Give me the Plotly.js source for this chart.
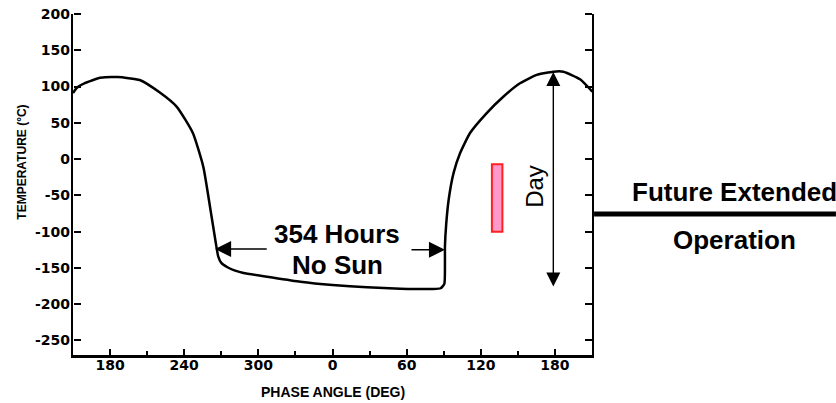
<!DOCTYPE html>
<html>
<head>
<meta charset="utf-8">
<script src="https://cdn.plot.ly/plotly-3.0.1.min.js"></script>
<style>html,body{margin:0;padding:0;background:#fff;}#chart{width:836px;height:403px;}</style>
</head>
<body>
<div id="chart"></div>
<script>
// Phase angle (continuous degrees: 360 = 0 on the axis) and lunar surface temperature (°C)
const phaseDeg = [150, 153, 160, 172, 186, 204, 220, 234, 247, 255.5, 261, 265.5, 267.5, 270, 275, 280, 288, 307, 334, 360, 388, 415, 441, 447.5, 450.5, 451, 451, 452, 454, 458, 463.2, 471.3, 484.8, 498.2, 511.7, 525.3, 538.7, 546.8, 560.3, 570.3];
const tempC    = [91, 98, 105, 112, 113, 109, 92, 72, 36, -11, -67, -115, -134, -143, -149, -153, -157, -162, -169, -173.5, -176.7, -178.6, -179, -178, -172, -145, -120, -90, -56, -19, 8, 36, 63.5, 86, 104.5, 116, 120.5, 120.5, 110, 93];

const xTickVals = [180, 240, 300, 360, 420, 480, 540];
const xTickText = ['180', '240', '300', '0', '60', '120', '180'];
const xMinorVals = [210, 270, 330, 390, 450, 510];
const yTickVals = [200, 150, 100, 50, 0, -50, -100, -150, -200, -250];
const yTickText = ['200', '150', '100', '50', '0', '-50', '-100', '-150', '-200', '-250'];

// Annotation anchors (data units)
const noSunLeftTip = [265, -124], noSunLeftTail = [308, -124];
const noSunRightTail = [422.7, -125], noSunRightTip = [451, -125];
const dayTop = [538.7, 120], dayBottom = [538.7, -177.7];
const markerBox = {x0: 489, x1: 497.5, y0: -100, y1: -7};

const xRange = [150, 570], yRange = [-270, 200];
const bold = s => '<b>' + s + '</b>';
const tickFont = {family: 'DejaVu Sans, Arial, sans-serif', size: 14, color: '#000'};

const curve = {
  x: phaseDeg, y: tempC, mode: 'lines', type: 'scatter',
  line: {color: '#000', width: 2.5, shape: 'spline', smoothing: 0.5},
  hoverinfo: 'skip', showlegend: false
};
// invisible copies so the tick-only overlay axes get drawn
const ghost = (xa, ya) => ({x: phaseDeg, y: tempC, xaxis: xa, yaxis: ya, mode: 'lines', type: 'scatter',
  line: {color: 'rgba(0,0,0,0)', width: 1}, hoverinfo: 'skip', showlegend: false});

const arrowBase = {xref: 'x', yref: 'y', axref: 'x', ayref: 'y', text: '', showarrow: true,
  arrowhead: 2, arrowsize: 2, arrowwidth: 1.6, arrowcolor: '#000', standoff: 0, startstandoff: 0};

const tickOnly = {showticklabels: false, showline: false, showgrid: false, zeroline: false,
  ticks: 'outside', tickwidth: 2, tickcolor: '#000', tickmode: 'array'};

const layout = {
  width: 836, height: 403,
  margin: {l: 73, r: 244, t: 14, b: 48, pad: 0},
  paper_bgcolor: '#fff', plot_bgcolor: '#fff',
  showlegend: false,
  xaxis: {
    range: xRange, tickmode: 'array', tickvals: xTickVals, ticktext: xTickText.map(bold),
    showgrid: false, zeroline: false, showline: true, linecolor: '#000', linewidth: 2.5,
    ticks: '', tickfont: tickFont, ticklabelstandoff: -4
  },
  xaxis2: Object.assign({}, tickOnly, {overlaying: 'x', range: xRange, side: 'top', anchor: 'free', position: 0,
    tickvals: xTickVals, ticklen: 6,
    minor: {tickmode: 'array', tickvals: xMinorVals, ticks: 'outside', ticklen: 4, tickwidth: 2, tickcolor: '#000', showgrid: false}}),
  yaxis: {
    range: yRange, tickmode: 'array', tickvals: yTickVals, ticktext: yTickText.map(bold),
    showgrid: false, zeroline: false, showline: true, linecolor: '#000', linewidth: 2.2,
    mirror: true, ticks: '', tickfont: tickFont, ticklabelstandoff: -2
  },
  yaxis2: Object.assign({}, tickOnly, {overlaying: 'y', range: yRange, side: 'right', anchor: 'free', position: 0,
    tickvals: yTickVals, ticklen: 7}),
  yaxis3: Object.assign({}, tickOnly, {overlaying: 'y', range: yRange, side: 'left', anchor: 'free', position: 1,
    tickvals: yTickVals, ticklen: 7}),
  shapes: [
    {type: 'rect', xref: 'x', yref: 'y', x0: markerBox.x0, x1: markerBox.x1, y0: markerBox.y0, y1: markerBox.y1,
     fillcolor: '#ff99cc', line: {color: '#ff2020', width: 2}},
    {type: 'line', xref: 'paper', yref: 'y', x0: 1.004, x1: 1.47, y0: -75.7, y1: -75.7,
     line: {color: '#000', width: 5}}
  ],
  annotations: [
    Object.assign({}, arrowBase, {x: noSunLeftTip[0], y: noSunLeftTip[1], ax: noSunLeftTail[0], ay: noSunLeftTail[1]}),
    Object.assign({}, arrowBase, {x: noSunRightTip[0], y: noSunRightTip[1], ax: noSunRightTail[0], ay: noSunRightTail[1]}),
    Object.assign({}, arrowBase, {x: dayTop[0], y: dayTop[1], ax: dayBottom[0], ay: dayBottom[1],
      arrowside: 'end+start', startarrowhead: 2, startarrowsize: 2, arrowwidth: 1.4}),
    {xref: 'x', yref: 'y', x: 364, y: -103, text: '<b>354 Hours</b>', showarrow: false,
     font: {family: 'Liberation Sans, Arial, sans-serif', size: 26, color: '#000'}},
    {xref: 'x', yref: 'y', x: 364, y: -146, text: '<b>No Sun</b>', showarrow: false,
     font: {family: 'Liberation Sans, Arial, sans-serif', size: 26, color: '#000'}},
    {xref: 'x', yref: 'y', x: 524, y: -38, text: 'Day', textangle: -90, showarrow: false,
     font: {family: 'Liberation Sans, Arial, sans-serif', size: 24, color: '#000'}},
    {xref: 'paper', yref: 'y', x: 1.2746, y: -45.3, text: '<b>Future Extended</b>', showarrow: false,
     xanchor: 'center', font: {family: 'Liberation Sans, Arial, sans-serif', size: 26, color: '#000'}},
    {xref: 'paper', yref: 'y', x: 1.2755, y: -111.5, text: '<b>Operation</b>', showarrow: false,
     xanchor: 'center', font: {family: 'Liberation Sans, Arial, sans-serif', size: 26, color: '#000'}},
    {xref: 'paper', yref: 'paper', x: 0.501, y: -0.1085, text: '<b>PHASE ANGLE (DEG)</b>', showarrow: false,
     xanchor: 'center', yanchor: 'middle', font: {family: 'Liberation Sans, Arial, sans-serif', size: 14, color: '#000'}},
    {xref: 'paper', yref: 'paper', x: -0.0983, y: 0.567, text: '<b>TEMPERATURE (°C)</b>', textangle: -90, showarrow: false,
     xanchor: 'center', yanchor: 'middle', font: {family: 'Liberation Sans Narrow, Liberation Sans, Arial, sans-serif', size: 12, color: '#000'}}
  ]
};

Plotly.newPlot('chart', [ghost('x2', 'y2'), ghost('x', 'y3'), curve], layout, {displayModeBar: false, staticPlot: true});
</script>
</body>
</html>
